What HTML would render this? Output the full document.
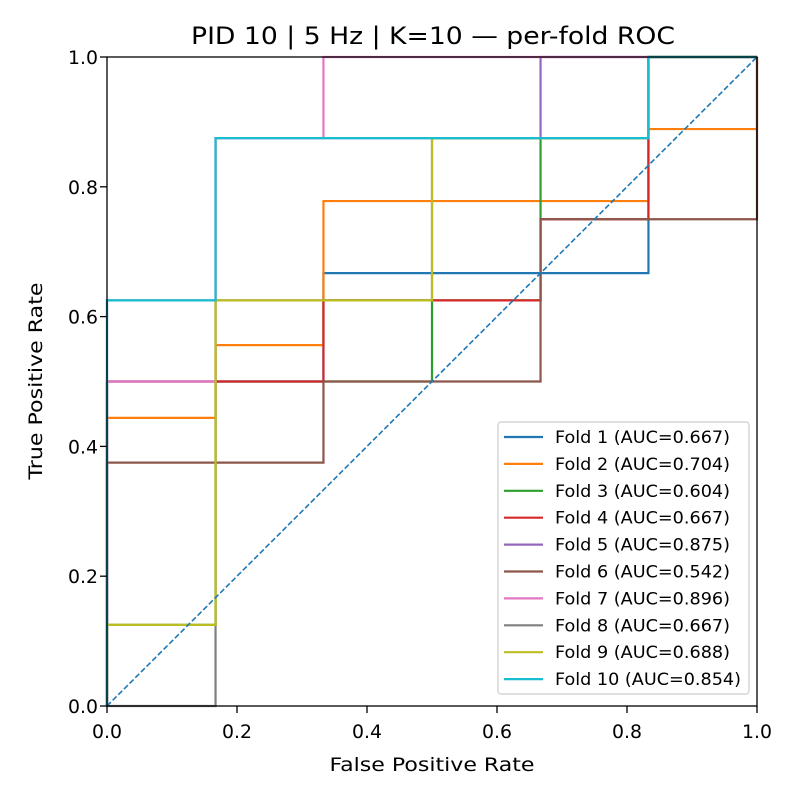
<!DOCTYPE html>
<html><head><meta charset="utf-8"><style>
body{margin:0;background:#fff}
svg{font-family:"DejaVu Sans","Liberation Sans",sans-serif}
</style></head><body>
<svg id="chart" width="800" height="800" xmlns="http://www.w3.org/2000/svg">
<rect width="800" height="800" fill="#fff"/>
<text x="433" y="44" font-size="24" text-anchor="middle" textLength="484" lengthAdjust="spacingAndGlyphs">PID 10 | 5 Hz | K=10 — per-fold ROC</text>
<g id="curves"></g>
<rect x="107" y="57" width="650" height="649" fill="none" stroke="#000" stroke-width="1.3"/>
<g id="ticks"></g>
<text x="432" y="771" font-size="19" text-anchor="middle" textLength="205" lengthAdjust="spacingAndGlyphs">False Positive Rate</text>
<text x="42" y="381" font-size="19" text-anchor="middle" textLength="197" lengthAdjust="spacingAndGlyphs" transform="rotate(-90 42 381)">True Positive Rate</text>
<g id="legend"></g>
</svg>
<script>
const foldLabels=["Fold 1 (AUC=0.667)","Fold 2 (AUC=0.704)","Fold 3 (AUC=0.604)","Fold 4 (AUC=0.667)","Fold 5 (AUC=0.875)","Fold 6 (AUC=0.542)","Fold 7 (AUC=0.896)","Fold 8 (AUC=0.667)","Fold 9 (AUC=0.688)","Fold 10 (AUC=0.854)"];
const colors=["#1f77b4","#ff7f0e","#2ca02c","#d62728","#9467bd","#8c564b","#e377c2","#7f7f7f","#bcbd22","#17becf"];
const f1=[[0,0],[0,0.5],[0.333,0.5],[0.333,0.667],[0.833,0.667],[0.833,1],[1,1]];
const f2=[[0,0],[0,0.444],[0.167,0.444],[0.167,0.556],[0.333,0.556],[0.333,0.778],[0.833,0.778],[0.833,0.889],[1,0.889],[1,1]];
const f3=[[0,0],[0,0.125],[0.167,0.125],[0.167,0.5],[0.5,0.5],[0.5,0.625],[0.667,0.625],[0.667,0.875],[0.833,0.875],[0.833,1],[1,1]];
const f4=[[0,0],[0,0.5],[0.333,0.5],[0.333,0.625],[0.667,0.625],[0.667,0.75],[0.833,0.75],[0.833,1],[1,1]];
const f5=[[0,0],[0,0.625],[0.167,0.625],[0.167,0.875],[0.667,0.875],[0.667,1],[1,1]];
const f6=[[0,0],[0,0.375],[0.333,0.375],[0.333,0.5],[0.667,0.5],[0.667,0.75],[1,0.75],[1,1]];
const f7=[[0,0],[0,0.5],[0.167,0.5],[0.167,0.875],[0.333,0.875],[0.333,1],[1,1]];
const f8=[[0,0],[0.167,0],[0.167,0.625],[0.5,0.625],[0.5,0.875],[0.833,0.875],[0.833,1],[1,1]];
const f9=[[0,0],[0,0.125],[0.167,0.125],[0.167,0.625],[0.5,0.625],[0.5,0.875],[0.833,0.875],[0.833,1],[1,1]];
const f10=[[0,0],[0,0.625],[0.167,0.625],[0.167,0.875],[0.833,0.875],[0.833,1],[1,1]];
const folds=[f1,f2,f3,f4,f5,f6,f7,f8,f9,f10];
const tickVals=[0,0.2,0.4,0.6,0.8,1.0];
const tickLabels=["0.0","0.2","0.4","0.6","0.8","1.0"];
const NS="http://www.w3.org/2000/svg";
const X=v=>107+v*650, Y=v=>706-v*649;
function mk(t,a,p){const e=document.createElementNS(NS,t);for(const k in a)e.setAttribute(k,a[k]);p.appendChild(e);return e;}
const cg=document.getElementById('curves');
folds.forEach((f,i)=>{
 const e=mk('polyline',{points:f.map(p=>X(p[0])+','+Y(p[1])).join(' '),fill:'none',stroke:colors[i],'stroke-width':2.2},cg);
 
 
});
const d=mk('line',{x1:X(0),y1:Y(0),x2:X(1),y2:Y(1),stroke:'#1f77b4','stroke-width':1.6,'stroke-dasharray':'5.5,2.5'},cg);


const tg=document.getElementById('ticks');
tickVals.forEach((v,i)=>{
 const a=mk('line',{x1:X(v),y1:706,x2:X(v),y2:713,stroke:'#000','stroke-width':1.3},tg);
 
 
 const t=mk('text',{x:X(v),y:738,'font-size':18.5,'text-anchor':'middle',textLength:30,lengthAdjust:'spacingAndGlyphs'},tg);t.textContent=tickLabels[i];
 
 
 const b=mk('line',{x1:100,y1:Y(v),x2:107,y2:Y(v),stroke:'#000','stroke-width':1.3},tg);
 
 
 const u=mk('text',{x:98,y:Y(v)+7,'font-size':18.5,'text-anchor':'end',textLength:30,lengthAdjust:'spacingAndGlyphs'},tg);u.textContent=tickLabels[i];
 
 
});
const lg=document.getElementById('legend');
const box=mk('rect',{x:498,y:422,width:251,height:272,rx:3,fill:'#fff','fill-opacity':0.8,stroke:'#ccc','stroke-width':1.2},lg);


foldLabels.forEach((l,i)=>{
 const y=437+i*26.9;
 const ln=mk('line',{x1:504,y1:y,x2:543,y2:y,stroke:colors[i],'stroke-width':2.2},lg);
 
 
 const t=mk('text',{x:555,y:y+6,'font-size':17,textLength:(i==9?186:175),lengthAdjust:'spacingAndGlyphs'},lg);t.textContent=l;
 
 
});
</script>
</body></html>
